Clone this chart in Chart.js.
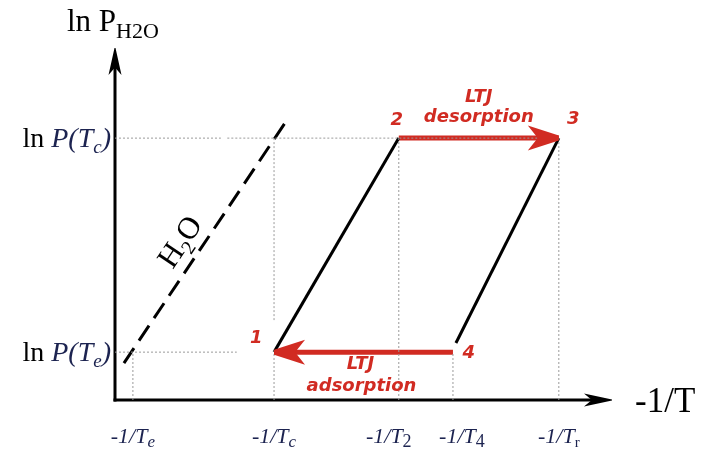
<!DOCTYPE html>
<html><head><meta charset="utf-8">
<script src="https://cdn.jsdelivr.net/npm/chart.js@4.4.0/dist/chart.umd.min.js"></script>
<style>html,body{margin:0;padding:0;background:#fff}#wrap{width:705px;height:449px}</style>
</head><body><div id="wrap"><canvas id="c" width="705" height="449"></canvas></div>
<script>
// ---- data (abstract units on a 0..100 scale) ----
const xTickValues = [3.6, 32, 57.1, 68, 89.3];
const xTickLabels = [['-1/T','e'], ['-1/T','c'], ['-1/T','2'], ['-1/T','4'], ['-1/T','r']];
const yTickValues = [13.6, 74.4];
const yTickLabels = [['ln ','P(T','e',')'], ['ln ','P(T','c',')']];
const h2oX = [1.8, 34.2];
const h2oY = [10.5, 78.7];
const iso12X = [32, 57.1];
const iso12Y = [13.6, 74.4];
const iso43X = [68.6, 89.3];
const iso43Y = [16.2, 74.4];
const desorpX = [57.1, 89.3];
const desorpY = [74.4, 74.4];
const adsorpX = [68, 32];
const adsorpY = [13.6, 13.6];
const stateLabels = ['1', '2', '3', '4'];
const processLabels = [['LTJ', 'desorption'], ['LTJ', 'adsorption']];

// ---- layout / style ----
const SERIF = '"Liberation Serif", "Times New Roman", serif';
const SANS = '"DejaVu Sans", Verdana, sans-serif';
const RED = '#d12b22';
const NAVY = '#1c2350';
const GRID = '#9a9a9a';
const stateLabelPos = [[28.4, 17.6], [56.7, 79.4], [92.2, 79.6], [71.2, 13.2]];
const processLabelPos = [[[73.2, 86.0], [73.2, 80.2]], [[49.4, 10.0], [49.6, 3.9]]];
const h2oLabelPos = [13.0, 45.0];
const xLabelShift = [0, 0, -10, 9, 0];

const pts = (xs, ys) => xs.map((x, i) => ({x, y: ys[i]}));
function gridSeg(x0, y0, x1, y1) { return [{x: x0, y: y0}, {x: x1, y: y1}]; }

const gridStyle = {borderColor: GRID, borderWidth: 1, borderDash: [2, 2], pointRadius: 0, showLine: true, fill: false, spanGaps: false};
const datasets = [
  Object.assign({data: [{x: 0, y: yTickValues[1]}, {x: 21.3, y: yTickValues[1]}, {x: 21.6, y: null}, {x: 22.6, y: yTickValues[1]}, {x: xTickValues[4], y: yTickValues[1]}]}, gridStyle),
  Object.assign({data: gridSeg(0, yTickValues[0], 24.5, yTickValues[0])}, gridStyle),
  Object.assign({data: gridSeg(xTickValues[0], 0, xTickValues[0], yTickValues[0])}, gridStyle),
  Object.assign({data: [{x: xTickValues[1], y: 0}, {x: xTickValues[1], y: 14.2}, {x: xTickValues[1], y: null}, {x: xTickValues[1], y: 22.7}, {x: xTickValues[1], y: yTickValues[1]}]}, gridStyle),
  Object.assign({data: gridSeg(xTickValues[2], 0, xTickValues[2], yTickValues[1])}, gridStyle),
  Object.assign({data: gridSeg(xTickValues[3], 0, xTickValues[3], yTickValues[0])}, gridStyle),
  Object.assign({data: gridSeg(xTickValues[4], 0, xTickValues[4], yTickValues[1])}, gridStyle),
  {data: pts(h2oX, h2oY), borderColor: '#000', borderWidth: 3, borderDash: [18, 9], borderCapStyle: 'butt', pointRadius: 0, showLine: true},
  {data: pts(iso12X, iso12Y), borderColor: '#000', borderWidth: 3, pointRadius: 0, showLine: true},
  {data: pts(iso43X, iso43Y), borderColor: '#000', borderWidth: 3, pointRadius: 0, showLine: true},
  {data: pts(desorpX, desorpY), borderColor: RED, borderWidth: 5, borderCapStyle: 'butt', pointRadius: 0, showLine: true},
  {data: pts(adsorpX, adsorpY), borderColor: RED, borderWidth: 5, borderCapStyle: 'butt', pointRadius: 0, showLine: true}
];
const H2O_IDX = 7, DES_IDX = 10, ADS_IDX = 11;

function arrowHead(ctx, tx, ty, dx, dy, L, W, notch, blunt, color) {
  const len = Math.hypot(dx, dy); dx /= len; dy /= len;
  const px = -dy, py = dx;
  ctx.save();
  ctx.fillStyle = color;
  ctx.beginPath();
  ctx.moveTo(tx + px * blunt, ty + py * blunt);
  ctx.lineTo(tx - dx * L + px * W, ty - dy * L + py * W);
  ctx.lineTo(tx - dx * L * notch, ty - dy * L * notch);
  ctx.lineTo(tx - dx * L - px * W, ty - dy * L - py * W);
  ctx.lineTo(tx - px * blunt, ty - py * blunt);
  ctx.closePath();
  ctx.fill();
  ctx.restore();
}

// parts: [{t, font, color, dy}]
function drawRich(ctx, parts, x, y, align) {
  let total = 0;
  parts.forEach(p => { ctx.font = p.font; p.w = ctx.measureText(p.t).width; total += p.w; });
  let cx = align === 'right' ? x - total : align === 'center' ? x - total / 2 : x;
  ctx.textBaseline = 'alphabetic';
  ctx.textAlign = 'left';
  parts.forEach(p => { ctx.font = p.font; ctx.fillStyle = p.color; ctx.fillText(p.t, cx, y + (p.dy || 0)); cx += p.w; });
}

const diagram = {
  id: 'diagram',
  beforeDatasetsDraw(chart) {
    const ctx = chart.ctx, xs = chart.scales.x, ys = chart.scales.y;
    const left = xs.getPixelForValue(0), bottom = ys.getPixelForValue(0);
    const top = ys.getPixelForValue(100), right = xs.getPixelForValue(100);
    ctx.save();
    ctx.strokeStyle = '#000'; ctx.lineWidth = 3; ctx.lineCap = 'butt';
    ctx.beginPath(); ctx.moveTo(left, bottom + 1.5); ctx.lineTo(left, top + 12); ctx.stroke();
    ctx.beginPath(); ctx.moveTo(left - 1.5, bottom); ctx.lineTo(right - 12, bottom); ctx.stroke();
    ctx.restore();
    arrowHead(ctx, left, top, 0, -1, 27, 6.5, 0.72, 0.5, '#000');
    arrowHead(ctx, right, bottom, 1, 0, 28, 6.5, 0.72, 0.5, '#000');
  },
  afterDatasetsDraw(chart) {
    const ctx = chart.ctx, xs = chart.scales.x, ys = chart.scales.y;
    const X = v => xs.getPixelForValue(v), Y = v => ys.getPixelForValue(v);
    [DES_IDX, ADS_IDX].forEach(i => {
      const d = chart.getDatasetMeta(i).data;
      const a = d[0], b = d[d.length - 1];
      arrowHead(ctx, b.x, b.y, b.x - a.x, b.y - a.y, 31, 12.5, 0.68, 2.5, RED);
    });
    ctx.save();
    // axis titles
    drawRich(ctx, [
      {t: 'ln P', font: '31px ' + SERIF, color: '#000'},
      {t: 'H2O', font: '22px ' + SERIF, color: '#000', dy: 7}
    ], 67, 31, 'left');
    drawRich(ctx, [{t: '-1/T', font: '35px ' + SERIF, color: '#000'}], 635, 412, 'left');
    // y tick labels
    yTickValues.forEach((v, i) => {
      const l = yTickLabels[i];
      drawRich(ctx, [
        {t: l[0], font: '28px ' + SERIF, color: '#000'},
        {t: l[1], font: 'italic 28px ' + SERIF, color: NAVY},
        {t: l[2], font: 'italic 19px ' + SERIF, color: NAVY, dy: 6},
        {t: l[3], font: 'italic 28px ' + SERIF, color: NAVY}
      ], 111, Y(v) + 9, 'right');
    });
    // x tick labels
    xTickValues.forEach((v, i) => {
      const l = xTickLabels[i];
      const sub = l[1];
      let subPart;
      if (sub === 'r') subPart = {t: sub, font: '15px ' + SERIF, color: NAVY, dy: 4};
      else if (/\d/.test(sub)) subPart = {t: sub, font: '18px ' + SERIF, color: NAVY, dy: 4};
      else subPart = {t: sub, font: 'italic 17px ' + SERIF, color: NAVY, dy: 4};
      drawRich(ctx, [{t: l[0], font: 'italic 22px ' + SERIF, color: NAVY}, subPart], X(v) + xLabelShift[i], 443, 'center');
    });
    // state labels
    ctx.font = 'italic bold 18px ' + SANS;
    ctx.fillStyle = RED; ctx.textAlign = 'center'; ctx.textBaseline = 'middle';
    stateLabels.forEach((s, i) => ctx.fillText(s, X(stateLabelPos[i][0]), Y(stateLabelPos[i][1])));
    ctx.font = 'italic bold 18px ' + SANS;
    processLabels.forEach((lines, i) => lines.forEach((t, j) => {
      ctx.fillText(t, X(processLabelPos[i][j][0]), Y(processLabelPos[i][j][1]));
    }));
    // H2O rotated label
    const hd = chart.getDatasetMeta(H2O_IDX).data;
    const ang = Math.atan2(hd[1].y - hd[0].y, hd[1].x - hd[0].x);
    ctx.translate(X(h2oLabelPos[0]), Y(h2oLabelPos[1]));
    ctx.rotate(ang);
    drawRich(ctx, [
      {t: 'H', font: '31px ' + SERIF, color: '#000'},
      {t: '2', font: '20px ' + SERIF, color: '#000', dy: 7},
      {t: 'O', font: '31px ' + SERIF, color: '#000'}
    ], 0, 10, 'center');
    ctx.restore();
  }
};

new Chart(document.getElementById('c'), {
  type: 'scatter',
  data: {datasets},
  options: {
    responsive: false,
    animation: false,
    events: [],
    layout: {padding: {left: 115, right: 93, top: 48, bottom: 49}},
    plugins: {legend: {display: false}, tooltip: {enabled: false}},
    scales: {
      x: {type: 'linear', min: 0, max: 100, display: false},
      y: {type: 'linear', min: 0, max: 100, display: false}
    }
  },
  plugins: [diagram]
});
</script></body></html>
